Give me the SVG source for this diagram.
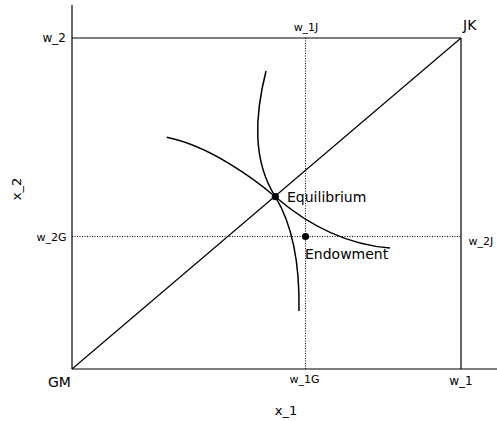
<svg xmlns="http://www.w3.org/2000/svg" width="497" height="421" viewBox="0 0 497 421">
<style>
.ax{stroke:#000;stroke-width:1.2;fill:none}
.dot{stroke:#000;stroke-width:1;stroke-dasharray:1,1.5;fill:none}
.cv{stroke:#000;stroke-width:1.5;fill:none}
text{font-family:"DejaVu Sans",sans-serif;fill:#000}
.s{font-size:11px}
.m{font-size:12px}
.x{font-size:13px}
.l{font-size:14px}
</style>
<rect width="497" height="421" fill="#fff"/>
<g id="connectors">
<line class="ax" x1="72" y1="5" x2="72" y2="369"/>
<line class="ax" x1="72" y1="369" x2="497" y2="369"/>
<line class="ax" x1="72" y1="38" x2="461" y2="38"/>
<line class="ax" x1="461" y1="38" x2="461" y2="369"/>
<line class="ax" x1="72" y1="369" x2="461" y2="38"/>
<line class="dot" x1="305.5" y1="38" x2="305.5" y2="369"/>
<line class="dot" x1="72" y1="236.5" x2="461" y2="236.5"/>
<path class="cv" d="M166.7,137.3 C210,146 255,179.5 275.3,196.7 C300,218 340,244 390,248"/>
<path class="cv" d="M266,71 C255,115 252,160 275.3,196.7 C290,221 300,255 299,311"/>
</g>
<g id="GM"><text class="l" x="48" y="387">GM</text></g>
<g id="JK"><text class="l" x="463" y="30">JK</text></g>
<g id="equilibrium">
<circle cx="275.3" cy="196.7" r="3.6" fill="#000"/>
<text class="l" x="287" y="202">Equilibrium</text>
</g>
<g id="endowment">
<circle cx="305.5" cy="236.5" r="3.6" fill="#000"/>
<text class="l" x="305" y="259">Endowment</text>
</g>
<g id="labels">
<text class="m" x="66" y="42" text-anchor="end">w_2</text>
<text class="s" x="66.5" y="241" text-anchor="end">w_2G</text>
<text class="s" x="306" y="31" text-anchor="middle">w_1J</text>
<text class="s" x="468.5" y="245">w_2J</text>
<text class="s" x="304.5" y="383" text-anchor="middle">w_1G</text>
<text class="m" x="461" y="385" text-anchor="middle">w_1</text>
<text class="x" x="286" y="415" text-anchor="middle">x_1</text>
<text class="x" x="0" y="0" text-anchor="middle" transform="translate(20.5,189) rotate(-90)">x_2</text>
</g>
</svg>
